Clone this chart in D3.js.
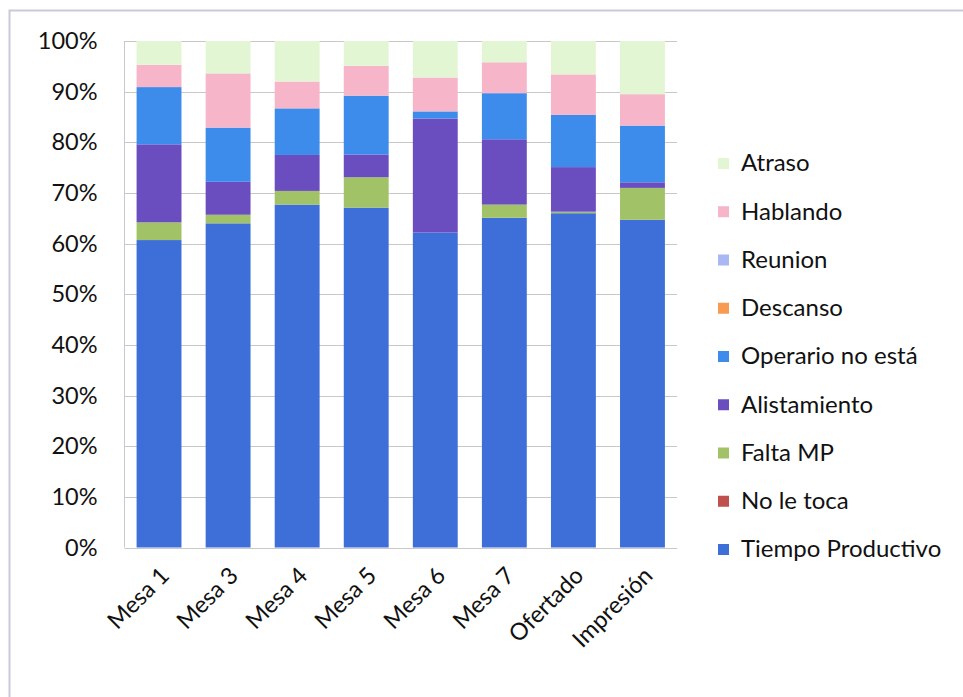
<!DOCTYPE html>
<html>
<head>
<meta charset="utf-8">
<script src="https://cdn.jsdelivr.net/npm/d3@7"></script>
<style>
  html, body { margin: 0; padding: 0; background: #fff; }
  svg { display: block; }
  text { font-family: Lato, "Open Sans", sans-serif; fill: #111; }
</style>
</head>
<body>
<svg id="chart" width="963" height="697"></svg>
<script>
// Puestos de trabajo
const categories = ["Mesa 1", "Mesa 3", "Mesa 4", "Mesa 5", "Mesa 6", "Mesa 7", "Ofertado", "Impresión"];

// Distribución del tiempo (%) por puesto, una lista por actividad
const tiempoProductivo = [60.7, 64.0, 67.7, 67.1, 62.2, 65.1, 66.0, 64.7];
const noLeToca         = [0, 0, 0, 0, 0, 0, 0, 0];
const faltaMP          = [3.5, 1.7, 2.7, 6.0, 0.0, 2.6, 0.3, 6.3];
const alistamiento     = [15.4, 6.5, 7.1, 4.5, 22.5, 12.9, 8.8, 1.1];
const operarioNoEsta   = [11.3, 10.7, 9.2, 11.6, 1.4, 9.1, 10.3, 11.2];
const descanso         = [0, 0, 0, 0, 0, 0, 0, 0];
const reunion          = [0, 0, 0, 0, 0, 0, 0, 0];
const hablando         = [4.4, 10.7, 5.3, 5.9, 6.7, 6.1, 8.0, 6.2];
const atraso           = [4.7, 6.4, 8.0, 4.9, 7.2, 4.2, 6.6, 10.5];

const seriesNames = ["Tiempo Productivo", "No le toca", "Falta MP", "Alistamiento",
  "Operario no está", "Descanso", "Reunion", "Hablando", "Atraso"];
const seriesValues = [tiempoProductivo, noLeToca, faltaMP, alistamiento,
  operarioNoEsta, descanso, reunion, hablando, atraso];
const seriesColors = ["#3e6fd9", "#c0504d", "#a1c266", "#6a4dbe",
  "#3d8ceb", "#f79a52", "#a9b8f2", "#f6b5c9", "#e3f6d4"];

const yTicks = [0, 0.1, 0.2, 0.3, 0.4, 0.5, 0.6, 0.7, 0.8, 0.9, 1.0];

// Filas normalizadas para el apilado al 100 %
const rows = categories.map((c, i) => {
  const r = { cat: c };
  const total = d3.sum(seriesValues, s => s[i]);
  seriesNames.forEach((n, k) => { r[n] = seriesValues[k][i] / total; });
  return r;
});

const svg = d3.select("#chart");
const fontSize = "23.5px";

// Marco exterior del gráfico
svg.append("rect")
  .attr("x", 9.5).attr("y", 10.5)
  .attr("width", 1000).attr("height", 1000)
  .attr("fill", "none").attr("stroke", "#c9c9dc").attr("stroke-width", 2);

const plot = { left: 124.5, right: 677, top: 41, bottom: 547.5 };

const x = d3.scaleBand().domain(categories)
  .range([plot.left, plot.right]).paddingInner(0.35).paddingOuter(0.175);
const y = d3.scaleLinear().domain([0, 1]).range([plot.bottom, plot.top]);

// Cuadrícula horizontal
svg.append("g").selectAll("line").data(yTicks).join("line")
  .attr("x1", plot.left).attr("x2", plot.right)
  .attr("y1", d => Math.round(y(d)) + 0.5).attr("y2", d => Math.round(y(d)) + 0.5)
  .attr("stroke", "#c8c8c8").attr("stroke-width", 1);

// Eje vertical
svg.append("line")
  .attr("x1", plot.left).attr("x2", plot.left)
  .attr("y1", plot.top).attr("y2", plot.bottom)
  .attr("stroke", "#c8c8d0");

// Barras apiladas
const stack = d3.stack().keys(seriesNames);
const layers = stack(rows);
svg.append("g").selectAll("g").data(layers).join("g")
  .attr("fill", (d, i) => seriesColors[i])
  .selectAll("rect").data(d => d).join("rect")
  .attr("x", d => x(d.data.cat))
  .attr("width", x.bandwidth())
  .attr("y", d => y(d[1]))
  .attr("height", d => Math.max(0, y(d[0]) - y(d[1])));

// Etiquetas del eje Y
const yAxis = d3.axisLeft(y).tickValues(yTicks).tickFormat(d3.format(".0%")).tickSize(0).tickPadding(27);
const gy = svg.append("g").attr("transform", `translate(${plot.left},0)`).call(yAxis);
gy.select(".domain").remove();
gy.selectAll("text").style("font-size", fontSize).style("font-family", "Lato, sans-serif").attr("fill", "#111");

// Etiquetas del eje X (rotadas)
svg.append("g").selectAll("text").data(categories).join("text")
  .attr("transform", d => `translate(${x(d) + x.bandwidth() / 2},${plot.bottom + 18}) rotate(-45)`)
  .attr("text-anchor", "end")
  .attr("dy", "0.7em")
  .style("font-size", fontSize)
  .text(d => d);

// Leyenda (de arriba hacia abajo en orden inverso al apilado)
const legendItems = seriesNames.map((n, i) => ({ name: n, color: seriesColors[i] })).reverse();
const lg = svg.append("g").selectAll("g").data(legendItems).join("g")
  .attr("transform", (d, i) => `translate(718,${163 + i * 48.25})`);
lg.append("rect").attr("x", 0).attr("y", -5).attr("width", 11).attr("height", 11)
  .attr("fill", d => d.color);
lg.append("text").attr("x", 23).attr("dy", "0.35em")
  .style("font-size", "24px").text(d => d.name);
</script>
</body>
</html>
